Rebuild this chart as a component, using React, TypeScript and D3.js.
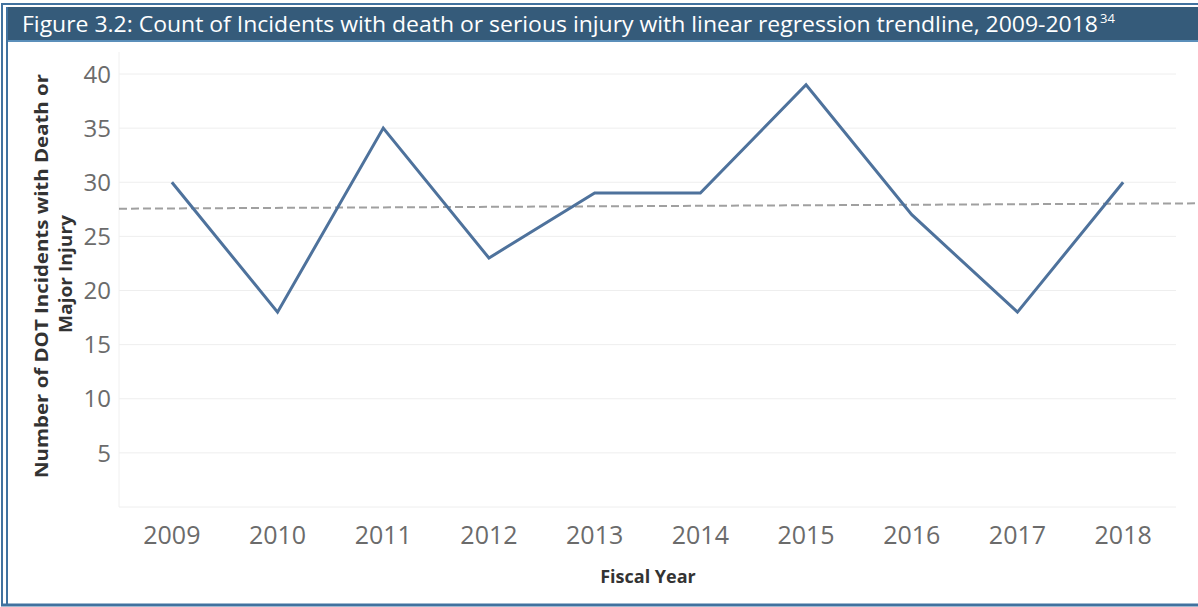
import React, { useRef, useEffect } from 'react';
import * as d3 from 'd3';

const years = ['2009', '2010', '2011', '2012', '2013', '2014', '2015', '2016', '2017', '2018'];
const incidents = [30, 18, 35, 23, 29, 29, 39, 27, 18, 30];
const yTicks = [5, 10, 15, 20, 25, 30, 35, 40];

const W = 1198;
const H = 607;

const App: React.FC = () => {
  const svgRef = useRef<SVGSVGElement>(null);

  useEffect(() => {
    if (!svgRef.current) return;
    const svg = d3.select(svgRef.current);
    svg.selectAll('*').remove();

    const left = 119;
    const right = 1176;
    const top = 74;
    const bottom = 507;

    // frame
    svg.append('rect').attr('x', 0).attr('y', 0).attr('width', W).attr('height', H).attr('fill', '#fff');
    svg.append('line').attr('x1', 2).attr('x2', 2).attr('y1', 3).attr('y2', 606)
      .attr('stroke', '#41729f').attr('stroke-width', 2);
    svg.append('line').attr('x1', 7).attr('x2', 7).attr('y1', 7).attr('y2', 606)
      .attr('stroke', '#41729f').attr('stroke-width', 2);
    svg.append('line').attr('x1', 1).attr('x2', W).attr('y1', 4).attr('y2', 4)
      .attr('stroke', '#41729f').attr('stroke-width', 2);
    svg.append('line').attr('x1', 1).attr('x2', W).attr('y1', 605).attr('y2', 605)
      .attr('stroke', '#41729f').attr('stroke-width', 3);

    // title bar
    svg.append('rect').attr('x', 8).attr('y', 7).attr('width', W - 8).attr('height', 33)
      .attr('fill', '#355b7a');
    svg.append('rect').attr('x', 8).attr('y', 40).attr('width', W - 8).attr('height', 2)
      .attr('fill', '#5b8fba');
    svg.append('text')
      .attr('x', 22).attr('y', 32)
      .attr('fill', '#fff')
      .attr('font-family', 'Open Sans, sans-serif')
      .attr('font-size', '22px')
      .attr('textLength', 1076)
      .attr('lengthAdjust', 'spacingAndGlyphs')
      .text('Figure 3.2: Count of Incidents with death or serious injury with linear regression trendline, 2009-2018');
    svg.append('text')
      .attr('x', 1100).attr('y', 23)
      .attr('fill', '#fff')
      .attr('font-family', 'Open Sans, sans-serif')
      .attr('font-size', '13px')
      .text('34');

    const x = d3.scaleBand().domain(years).range([left, right]);
    const y = d3.scaleLinear().domain([0, 40]).range([bottom, top]);

    // grid
    svg.append('g').selectAll('line').data(yTicks).join('line')
      .attr('x1', left).attr('x2', right)
      .attr('y1', d => y(d)).attr('y2', d => y(d))
      .attr('stroke', '#eeeeee').attr('stroke-width', 1);
    svg.append('line').attr('x1', left).attr('x2', right).attr('y1', bottom).attr('y2', bottom)
      .attr('stroke', '#eeeeee');
    svg.append('line').attr('x1', left).attr('x2', left).attr('y1', 52).attr('y2', bottom)
      .attr('stroke', '#f0f0f0');

    // y tick labels
    svg.append('g').selectAll('text').data(yTicks).join('text')
      .attr('x', 111).attr('y', d => y(d))
      .attr('dy', '0.36em')
      .attr('text-anchor', 'end')
      .attr('fill', '#6b6b6b')
      .attr('font-family', 'Open Sans, sans-serif')
      .attr('font-size', '24px')
      .text(d => d);

    // x tick labels
    svg.append('g').selectAll('text').data(years).join('text')
      .attr('x', d => (x(d) as number) + x.bandwidth() / 2)
      .attr('y', 535)
      .attr('dy', '0.36em')
      .attr('text-anchor', 'middle')
      .attr('fill', '#6b6b6b')
      .attr('font-family', 'Open Sans, sans-serif')
      .attr('font-size', '25px')
      .text(d => d);

    // axis titles
    svg.append('text')
      .attr('transform', 'translate(48,478) rotate(-90)')
      .attr('fill', '#333')
      .attr('font-family', 'Open Sans, sans-serif')
      .attr('font-weight', 'bold')
      .attr('font-size', '18px')
      .attr('textLength', 404).attr('lengthAdjust', 'spacingAndGlyphs')
      .text('Number of DOT Incidents with Death or');
    svg.append('text')
      .attr('transform', 'translate(72,333) rotate(-90)')
      .attr('fill', '#333')
      .attr('font-family', 'Open Sans, sans-serif')
      .attr('font-weight', 'bold')
      .attr('font-size', '18px')
      .attr('textLength', 118).attr('lengthAdjust', 'spacingAndGlyphs')
      .text('Major Injury');

    svg.append('text')
      .attr('x', 648).attr('y', 577)
      .attr('dy', '0.36em')
      .attr('text-anchor', 'middle')
      .attr('fill', '#333')
      .attr('font-family', 'Open Sans, sans-serif')
      .attr('font-weight', 'bold')
      .attr('font-size', '18px')
      .text('Fiscal Year');

    // linear regression trend line
    const idx = incidents.map((_, i) => i);
    const mx = d3.mean(idx) as number;
    const my = d3.mean(incidents) as number;
    const sxy = d3.sum(idx, i => (i - mx) * (incidents[i] - my));
    const sxx = d3.sum(idx, i => (i - mx) * (i - mx));
    const slope = sxy / sxx;
    const icpt = my - slope * mx;
    const step = x.step();
    const x0 = (x(years[0]) as number) + x.bandwidth() / 2;
    const xi = d3.scaleLinear().domain([0, 1]).range([x0, x0 + step]);
    const iLeft = xi.invert(left);
    const iRight = xi.invert(W - 2);
    svg.append('line')
      .attr('x1', xi(iLeft)).attr('y1', y(icpt + slope * iLeft))
      .attr('x2', xi(iRight)).attr('y2', y(icpt + slope * iRight))
      .attr('stroke', '#a0a0a0')
      .attr('stroke-width', 2)
      .attr('stroke-dasharray', '8,4');

    // data line
    const line = d3.line<number>()
      .x((_, i) => (x(years[i]) as number) + x.bandwidth() / 2)
      .y(d => y(d));
    svg.append('path')
      .datum(incidents)
      .attr('d', line)
      .attr('fill', 'none')
      .attr('stroke', '#4e729c')
      .attr('stroke-width', 3)
      .attr('stroke-linejoin', 'miter');
  }, []);

  return (
    <div style={{ position: 'absolute', left: 0, top: 0 }}>
      <svg ref={svgRef} width={W} height={H} style={{ display: 'block' }} />
    </div>
  );
};

export default App;
